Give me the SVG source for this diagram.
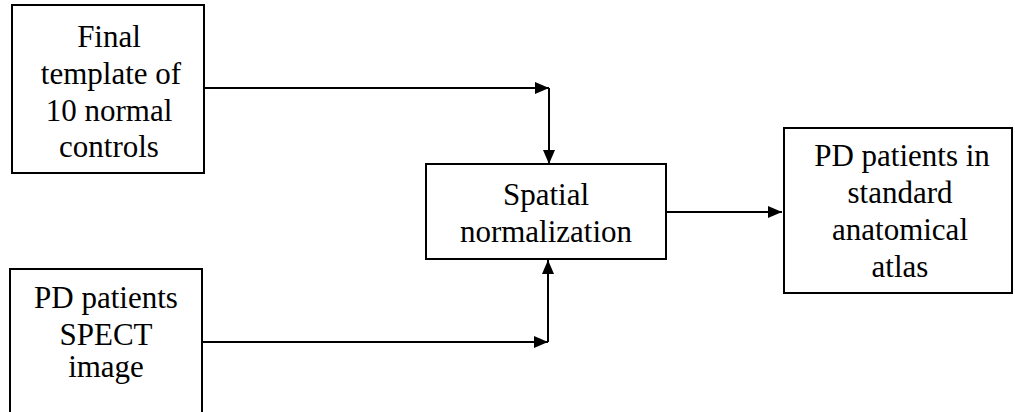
<svg xmlns="http://www.w3.org/2000/svg" width="1015" height="412" viewBox="0 0 1015 412">
  <style>
    .box { fill: #ffffff; stroke: #000000; stroke-width: 2; }
    .lbl { font-family: "Liberation Serif", "Times New Roman", serif; font-size: 31px; fill: #000000; text-anchor: middle; }
    .wire { fill: none; stroke: #000000; stroke-width: 2; }
  </style>
  <defs>
    <marker id="head" viewBox="0 0 14 12" refX="14" refY="6" markerWidth="14" markerHeight="12" markerUnits="userSpaceOnUse" orient="auto">
      <path d="M0,0 L14,6 L0,12 Z" fill="#000000"/>
    </marker>
  </defs>
  <rect width="1015" height="412" fill="#ffffff"/>

  <g id="template">
    <rect class="box" x="12" y="5" width="192" height="168"/>
    <text class="lbl" x="109" y="47">Final</text>
    <text class="lbl" x="111" y="84">template of</text>
    <text class="lbl" x="109" y="121">10 normal</text>
    <text class="lbl" x="109" y="157">controls</text>
  </g>

  <g id="spect">
    <rect class="box" x="10" y="269" width="192" height="160"/>
    <text class="lbl" x="106" y="308">PD patients</text>
    <text class="lbl" x="106" y="345">SPECT</text>
    <text class="lbl" x="106" y="377">image</text>
  </g>

  <g id="normalization">
    <rect class="box" x="426" y="164" width="240" height="95"/>
    <text class="lbl" x="546" y="205">Spatial</text>
    <text class="lbl" x="546" y="242">normalization</text>
  </g>

  <g id="atlas">
    <rect class="box" x="784" y="128" width="228" height="165"/>
    <text class="lbl" x="902" y="166">PD patients in</text>
    <text class="lbl" x="900" y="203">standard</text>
    <text class="lbl" x="900" y="240">anatomical</text>
    <text class="lbl" x="900" y="277">atlas</text>
  </g>

  <g id="connectors">
    <line class="wire" x1="204" y1="88" x2="549" y2="88" marker-end="url(#head)"/>
    <line class="wire" x1="549" y1="88" x2="549" y2="164" marker-end="url(#head)"/>
    <line class="wire" x1="202" y1="342" x2="548" y2="342" marker-end="url(#head)"/>
    <line class="wire" x1="548" y1="342" x2="548" y2="260" marker-end="url(#head)"/>
    <line class="wire" x1="666" y1="212" x2="782" y2="212" marker-end="url(#head)"/>
  </g>
</svg>
